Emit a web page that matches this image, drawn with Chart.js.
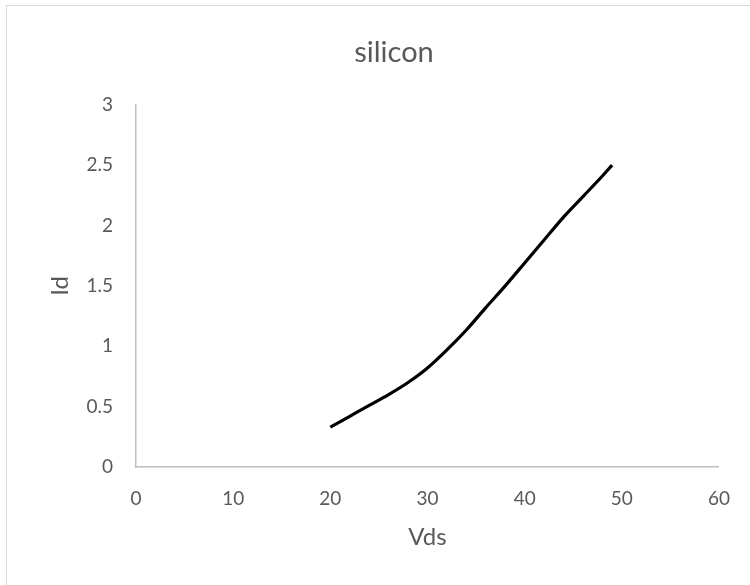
<!DOCTYPE html>
<html>
<head>
<meta charset="utf-8">
<script src="https://cdn.jsdelivr.net/npm/chart.js@4"></script>
<style>
  html, body { margin:0; padding:0; background:#fff; overflow:hidden; }
  #wrap { position:relative; width:750px; height:585px; }
  #frame { position:absolute; left:6px; top:5px; width:800px; height:700px; border:1px solid #d9d9d9; box-sizing:border-box; }
  canvas { position:absolute; left:0; top:0; }
</style>
</head>
<body>
<div id="wrap">
  <div id="frame"></div>
  <canvas id="silicon" width="750" height="585"></canvas>
</div>
<script>
const vds = [20, 22, 24, 26, 28, 30, 32, 34, 36, 38, 40, 42, 44, 46, 48, 49]
const id  = [0.33, 0.42, 0.51, 0.60, 0.70, 0.82, 0.97, 1.135, 1.32, 1.50, 1.69, 1.88, 2.07, 2.24, 2.41, 2.5]
const xTicks = [0, 10, 20, 30, 40, 50, 60]
const yTicks = [0, 0.5, 1, 1.5, 2, 2.5, 3]

const font = "Lato, 'Open Sans', sans-serif"
const grey = '#595959'

const points = vds.map((v, i) => ({x: v, y: id[i]}))

// excel centres the title on the whole chart object, which runs past the right edge
const titleCentre = {
    id: 'titleCentre',
    afterLayout(chart) {
        chart.titleBlock.left = 6
        chart.titleBlock.right = 782
    }
}

const siliconChart = new Chart(document.getElementById("silicon"), {
    type: 'scatter',
    data: {
        datasets: [{
            data: points,
            showLine: true,
            borderColor: '#000',
            borderWidth: 3.2,
            pointRadius: 0,
            tension: 0.4,
            cubicInterpolationMode: 'monotone'
        }]
    },
    options: {
        responsive: false,
        animation: false,
        layout: { padding: { left: 46, right: 30, top: 0, bottom: 33 } },
        plugins: {
            legend: { display: false },
            tooltip: { enabled: false },
            title: {
                display: true,
                text: 'silicon',
                color: grey,
                font: { family: font, size: 29, weight: 'normal', lineHeight: 1.2 },
                padding: { top: 35, bottom: 35 }
            }
        },
        scales: {
            x: {
                type: 'linear',
                min: 0, max: 60,
                afterBuildTicks: s => { s.ticks = xTicks.map(v => ({value: v})) },
                afterFit: s => { s.height = 85 },
                grid: { display: false, drawTicks: false },
                border: { color: '#bfbfbf', width: 1.5 },
                ticks: { color: grey, padding: 20, callback: v => String(v), font: { family: font, size: 19 } },
                title: { display: true, text: 'Vds', color: grey, padding: 0, font: { family: font, size: 24 } }
            },
            y: {
                type: 'linear',
                min: 0, max: 3,
                afterBuildTicks: s => { s.ticks = yTicks.map(v => ({value: v})) },
                afterFit: s => { s.width = 90 },
                grid: { display: false, drawTicks: false },
                border: { color: '#bfbfbf', width: 1.5 },
                ticks: { color: grey, padding: 23, callback: v => String(v), font: { family: font, size: 19 } },
                title: { display: true, text: 'Id', color: grey, padding: 0, font: { family: font, size: 24 } }
            }
        }
    },
    plugins: [titleCentre]
})
</script>
</body>
</html>
